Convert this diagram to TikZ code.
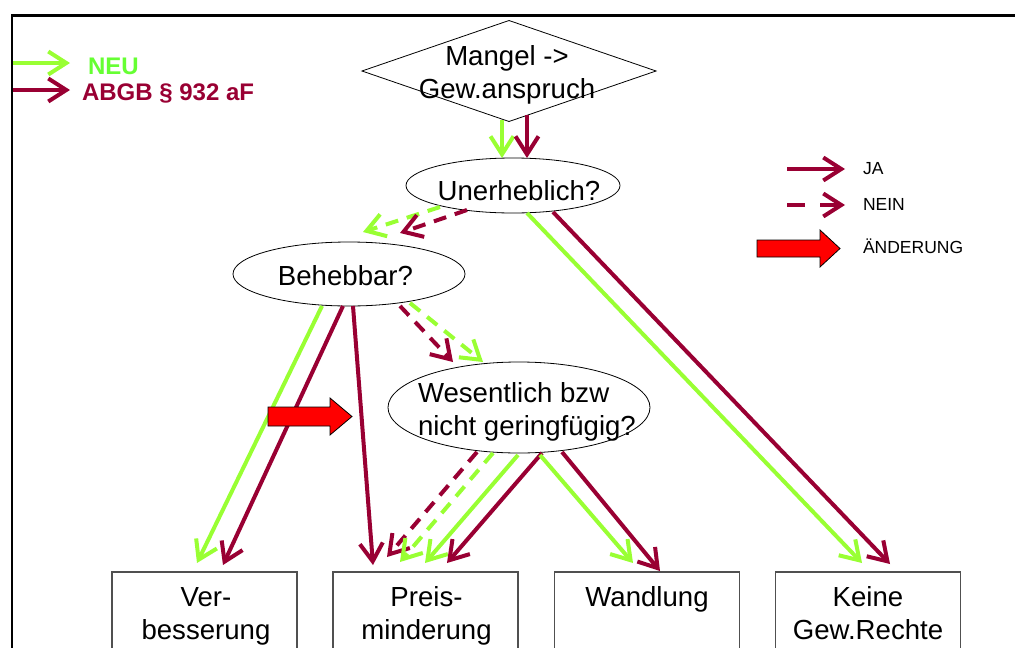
\documentclass[tikz,border=0pt]{standalone}
\usepackage{fontspec}
\setmainfont{Liberation Sans}
\usetikzlibrary{arrows.meta,shapes.geometric,calc}
\definecolor{lime}{HTML}{99FF33}
\definecolor{limetext}{HTML}{66FF33}
\definecolor{wine}{HTML}{990033}
\definecolor{boxgray}{HTML}{505050}

\begin{document}
\begin{tikzpicture}[x=1pt,y=-1pt,
  every node/.style={inner sep=0pt, outer sep=0pt},
  conn/.style={line width=4pt, -{Straight Barb[length=18pt,width=23pt]}},
  neu/.style={conn, draw=lime},
  alt/.style={conn, draw=wine},
  nein/.style={dash pattern=on 13pt off 9pt},
  ell/.style={draw, ellipse, line width=0.8pt},
  box/.style={draw=boxgray, line width=1.2pt, minimum width=185pt, minimum height=100pt, anchor=north},
  lbl/.style={font=\fontsize{27.6}{33}\selectfont},
  small/.style={font=\fontsize{17.5}{21}\selectfont},
  bold/.style={font=\fontsize{24}{28}\selectfont\bfseries},
  block/.style={fill=red, draw=black, line width=0.8pt, line join=miter}
]
\useasboundingbox (0,0) rectangle (1015,648);
\clip (0,0) rectangle (1015,648);

% frame
\draw[line width=2.4pt] (11.7,670) -- (11.7,15.5) -- (1030,15.5);

% decision shapes
\node[draw, diamond, minimum width=294pt, minimum height=101pt, line width=0.8pt] (mangel) at (509,71) {};
\node[ell, minimum width=214pt, minimum height=55pt] (uner) at (513,185.5) {};
\node[ell, minimum width=232pt, minimum height=64pt] (beh) at (349,274) {};
\node[ell, minimum width=262pt, minimum height=91pt] (wes) at (519,407.5) {};

% outcome boxes
\node[box] (verb) at (204.5,572) {};
\node[box] (preis) at (425.5,572) {};
\node[box] (wandl) at (647,572) {};
\node[box] (keine) at (868,572) {};

% texts
\node[lbl, anchor=north, align=center] (mangeltxt) at (507,41.9) {\strut Mangel ->\\\strut Gew.anspruch};
\node[lbl, anchor=base] (unertxt) at (519,200) {Unerheblich?};
\node[lbl, anchor=base] (behtxt) at (345.5,285) {Behebbar?};
\node[lbl, anchor=north west, align=left] (westxt) at (418,378.9) {\strut Wesentlich bzw\\\strut nicht geringfügig?};
\node[lbl, anchor=north, align=center] (verbtxt) at (206,582.9) {\strut Ver-\\\strut besserung};
\node[lbl, anchor=north, align=center] (preistxt) at (426.5,582.9) {\strut Preis-\\\strut minderung};
\node[lbl, anchor=base] (wandltxt) at (647,606) {Wandlung};
\node[lbl, anchor=north, align=center] (keinetxt) at (868,582.9) {\strut Keine\\\strut Gew.Rechte};

% Mangel -> Unerheblich
\draw[neu] ($(mangel)+(-7,49)$) -- ($(uner)+(-11,-27.5)$);
\draw[alt] ($(mangel)+(18,44)$) -- ($(uner)+(14,-27.5)$);

% Unerheblich -> Behebbar (nein)
\draw[neu, nein] ($(uner)+(-73,21.5)$) -- ($(beh)+(14,-42)$);
\draw[alt, nein] ($(uner)+(-46,24.5)$) -- ($(beh)+(51,-41)$);

% Unerheblich -> Keine Gew.Rechte (ja)
\draw[neu] ($(uner)+(14,27.5)$) -- ($(keine.north)+(-6,-9)$);
\draw[alt] ($(uner)+(40,26.5)$) -- ($(keine.north)+(22,-8)$);

% Behebbar -> Wesentlich (nein)
\draw[alt, nein] ($(beh)+(51,32)$) -- ($(wes)+(-66,-45.5)$);
\draw[neu, nein] ($(beh)+(61,29)$) -- ($(wes)+(-36,-45.5)$);

% Behebbar -> Verbesserung / Preisminderung (ja)
\draw[neu] ($(beh)+(-27,32)$) -- ($(verb.north)+(-7.5,-9)$);
\draw[alt] ($(beh)+(-6,32)$) -- ($(verb.north)+(18.5,-7)$);
\draw[alt] ($(beh)+(4,32)$) -- ($(preis.north)+(-52.5,-7)$);

% Wesentlich -> Preisminderung
\draw[alt, nein] ($(wes)+(-42,44.5)$) -- ($(preis.north)+(-38.5,-15)$);
\draw[neu, nein] ($(wes)+(-26,45.5)$) -- ($(preis.north)+(-25.5,-10)$);
\draw[neu] ($(wes)+(-1,47.5)$) -- ($(preis.north)+(-0.5,-9)$);
\draw[alt] ($(wes)+(23,45.5)$) -- ($(preis.north)+(21.5,-9)$);

% Wesentlich -> Wandlung
\draw[neu] ($(wes)+(21,47.5)$) -- ($(wandl.north)+(-14,-9)$);
\draw[alt] ($(wes)+(43,44.5)$) -- ($(wandl.north)+(13,-1)$);

% change marker
\draw[block] (268,407) -- (330,407) -- (330,398) -- (352,416.5) -- (330,435) -- (330,426) -- (268,426) -- cycle;

% legend: versions
\node[bold, text=limetext, anchor=base west] (neutxt) at (88,74) {NEU};
\node[bold, text=wine, anchor=base west] (abgbtxt) at (82,100) {ABGB § 932 aF};
\coordinate (neuS) at (13,63);
\coordinate (neuE) at (70,63);
\coordinate (abgbS) at (13,90);
\coordinate (abgbE) at (70,90);
\draw[neu] (neuS) -- (neuE);
\draw[alt] (abgbS) -- (abgbE);

% legend: answers
\node[small, anchor=base west] (jatxt) at (863,174) {JA};
\node[small, anchor=base west] (neintxt) at (863,210) {NEIN};
\node[small, anchor=base west] (aendtxt) at (863,253) {ÄNDERUNG};
\coordinate (jaS) at (787,169);
\coordinate (jaE) at (845,169);
\coordinate (neinS) at (787,205);
\coordinate (neinE) at (845,205);
\draw[alt] (jaS) -- (jaE);
\draw[alt, dash pattern=on 18pt off 15pt] (neinS) -- (neinE);
\draw[block] (757,240) -- (820,240) -- (820,230) -- (840,248.5) -- (820,267) -- (820,257) -- (757,257) -- cycle;
\end{tikzpicture}
\end{document}
